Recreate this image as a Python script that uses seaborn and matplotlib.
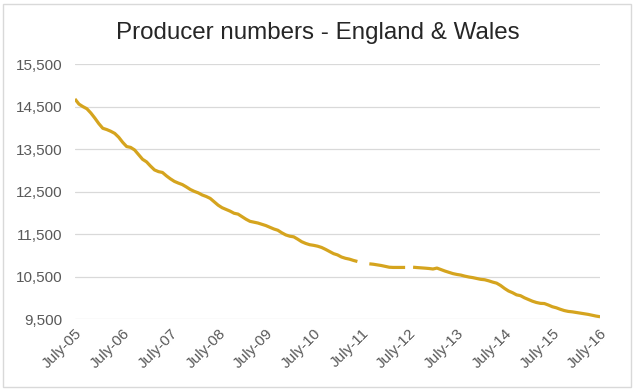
import numpy as np
import pandas as pd
import matplotlib
matplotlib.use("Agg")
import matplotlib.pyplot as plt
import seaborn as sns
from matplotlib.patches import Rectangle

# ================= DATA =================
# monthly producer numbers, July 2005 .. July 2016 (NaN = no figure)
y05 = [14680, 14560, 14500, 14450, 14350, 14230, 14100, 13990, 13960, 13920, 13870, 13780]
y06 = [13660, 13560, 13540, 13480, 13370, 13260, 13200, 13100, 13010, 12970, 12950, 12870]
y07 = [12800, 12740, 12700, 12665, 12610, 12550, 12505, 12470, 12420, 12385, 12340, 12260]
y08 = [12180, 12120, 12080, 12040, 11990, 11970, 11910, 11850, 11800, 11780, 11760, 11730]
y09 = [11700, 11660, 11620, 11590, 11530, 11480, 11450, 11435, 11380, 11320, 11280, 11250]
y10 = [11235, 11215, 11185, 11140, 11090, 11040, 11010, 10960, 10930, 10910, 10880, 10855]
y11 = [np.nan, np.nan, 10800, 10790, 10775, 10760, 10740, 10720, 10715, 10715, 10715, 10715]
y12 = [np.nan, 10720, 10712, 10705, 10698, 10690, 10678, 10700, 10665, 10630, 10600, 10570]
y13 = [10550, 10535, 10510, 10490, 10475, 10455, 10435, 10425, 10400, 10370, 10345, 10290]
y14 = [10220, 10160, 10120, 10070, 10050, 10000, 9960, 9920, 9890, 9870, 9865, 9830]
y15 = [9790, 9765, 9730, 9700, 9680, 9670, 9655, 9640, 9625, 9610, 9590, 9570]
y16 = [9555]

tick_labels = ["July-05", "July-06", "July-07", "July-08", "July-09", "July-10",
               "July-11", "July-12", "July-13", "July-14", "July-15", "July-16"]
y_ticks = [9500, 10500, 11500, 12500, 13500, 14500, 15500]

values = y05 + y06 + y07 + y08 + y09 + y10 + y11 + y12 + y13 + y14 + y15 + y16

df = pd.DataFrame({"month": np.arange(len(values)), "producers": values})
# split into segments so the missing months show as gaps
df["segment"] = df["producers"].isna().cumsum()
df = df.dropna()

# ================= PLOT =================
sns.set_style("white")
plt.rcParams["font.family"] = ["Liberation Sans", "DejaVu Sans"]

fig = plt.figure(figsize=(6.35, 3.91), dpi=100)
ax = fig.add_axes([0.118, 0.184, 0.827, 0.652])

sns.lineplot(data=df, x="month", y="producers", units="segment",
             estimator=None, color="#D5A41E", linewidth=2.3, ax=ax,
             solid_capstyle="butt")

ax.set_xlim(0, len(values) - 1)
ax.set_ylim(9500, 15500)
ax.set_yticks(y_ticks)
ax.set_yticklabels([f"{v:,}" for v in y_ticks])
ax.set_xticks(np.arange(0, len(values), 12))
ax.set_xticklabels(tick_labels, rotation=45, ha="right", va="top",
                   rotation_mode="anchor")
ax.tick_params(axis="both", length=0, labelsize=11, colors="#595959")
ax.tick_params(axis="y", pad=9)
ax.tick_params(axis="x", pad=5)
ax.grid(axis="y", color="#D9D9D9", linewidth=0.9)
ax.set_axisbelow(True)
for s in ax.spines.values():
    s.set_visible(False)
ax.set_xlabel("")
ax.set_ylabel("")

fig.text(0.5, 1 - 33 / 391, "Producer numbers - England & Wales",
         ha="center", va="center", fontsize=17.4, color="#262626")

fig.patches.append(Rectangle((3 / 635, 4 / 391), 628 / 635, 383 / 391,
                             transform=fig.transFigure, fill=False,
                             edgecolor="#D9D9D9", linewidth=1))

fig.savefig("out.png", dpi=100)
